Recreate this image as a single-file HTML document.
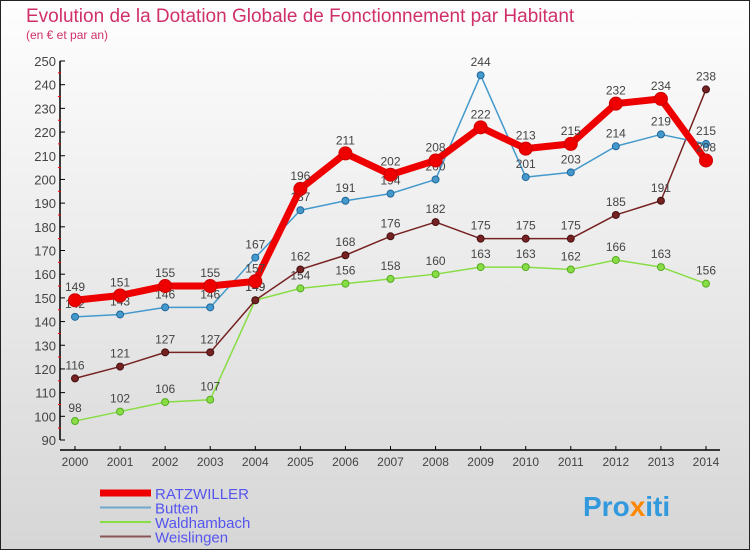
<!DOCTYPE html>
<html><head><meta charset="utf-8"><style>
body{margin:0;width:750px;height:550px;overflow:hidden;font-family:"Liberation Sans",sans-serif}
svg{display:block}
</style></head><body>
<svg id="c" width="750" height="550">
<defs><linearGradient id="bg" x1="0" y1="0" x2="0" y2="1"><stop offset="0" stop-color="#fefefe"/><stop offset="1" stop-color="#d6d6d6"/></linearGradient></defs>
<rect x="0.5" y="0.5" width="749" height="549" fill="url(#bg)" stroke="#222"/>
<text x="26" y="22" font-size="19" fill="#d0306a">Evolution de la Dotation Globale de Fonctionnement par Habitant</text>
<text x="26" y="39" font-size="12" fill="#d0306a">(en € et par an)</text>
<g id="axes"></g><g id="series"></g><g id="legend"></g>
<text x="583" y="516" font-size="28" font-weight="bold" fill="#3399dd">Pro<tspan fill="#ff8800">x</tspan>iti</text>
</svg>
<script>
const years=[2000,2001,2002,2003,2004,2005,2006,2007,2008,2009,2010,2011,2012,2013,2014];
const ratz=[149,151,155,155,157,196,211,202,208,222,213,215,232,234,208];
const butten=[142,143,146,146,167,187,191,194,200,244,201,203,214,219,215];
const wald=[98,102,106,107,149,154,156,158,160,163,163,162,166,163,156];
const weis=[116,121,127,127,149,162,168,176,182,175,175,175,185,191,238];
const yTicks=[90,100,110,120,130,140,150,160,170,180,190,200,210,220,230,240,250];
const NS="http://www.w3.org/2000/svg";
const X=i=>75+i*(706-75)/(years.length-1);
const Y=v=>440-(v-90)*(379/160);
function mk(t,a,p){const e=document.createElementNS(NS,t);for(const k in a)e.setAttribute(k,a[k]);p.appendChild(e);return e;}
const ax=document.getElementById('axes');
let yl=mk('line',{x1:60,y1:Y(250),x2:60,y2:Y(90),stroke:'#000','stroke-width':1.5},ax);


yTicks.forEach(v=>{
 mk('line',{x1:60,y1:Y(v),x2:65,y2:Y(v),stroke:'#000'},ax);
 if(v<250)mk('line',{x1:58,y1:Y(v+5),x2:61,y2:Y(v+5),stroke:'#f00'},ax);
 const t=mk('text',{x:56,y:Y(v)+5,'text-anchor':'end','font-size':13,fill:'#444'},ax);t.textContent=v;
 
 
});
let xl=mk('line',{x1:60,y1:450,x2:720,y2:450,stroke:'#000','stroke-width':1.5},ax);


years.forEach((yr,i)=>{
 mk('line',{x1:X(i),y1:446,x2:X(i),y2:450,stroke:'#000'},ax);
 const t=mk('text',{x:X(i),y:466,'text-anchor':'middle','font-size':12,fill:'#444'},ax);t.textContent=yr;
 
 
});
const sg=document.getElementById('series');
function draw(vals,color,w,r,name,dark){
 const g=mk('g',{},sg);
 
 
 const pl=mk('polyline',{points:vals.map((v,i)=>X(i)+','+Y(v)).join(' '),fill:'none',stroke:color,'stroke-width':w,'stroke-linejoin':'round'},g);
 
 
 vals.forEach((v,i)=>{
  const c=mk('circle',{cx:X(i),cy:Y(v),r:r,fill:color,stroke:dark,'stroke-width':1},g);
  
  
  const t=mk('text',{x:X(i),y:Y(v)-9,'text-anchor':'middle','font-size':12,fill:'#444'},g);t.textContent=v;
  
  
 });
}
draw(wald,'#88dd44',1.5,3.5,'waldhambach','#55aa22');
draw(weis,'#772222',1.5,3.5,'weislingen','#441111');
draw(butten,'#4499cc',1.5,3.5,'butten','#226699');
draw(ratz,'#ee0000',7,6.5,'ratzwiller','#cc0000');
const lg=document.getElementById('legend');
const items=[['RATZWILLER','#ee0000',7],['Butten','#6fa8cc',2],['Waldhambach','#88dd44',2],['Weislingen','#885555',2]];
items.forEach((it,i)=>{
 const y=493+i*14.5;
 const l=mk('line',{x1:100,y1:y,x2:151,y2:y,stroke:it[1],'stroke-width':it[2]},lg);
 
 
 const t=mk('text',{x:155,y:y+6,'font-size':15,fill:'#5555ee'},lg);t.textContent=it[0];
 
 
});
</script>
</body></html>
